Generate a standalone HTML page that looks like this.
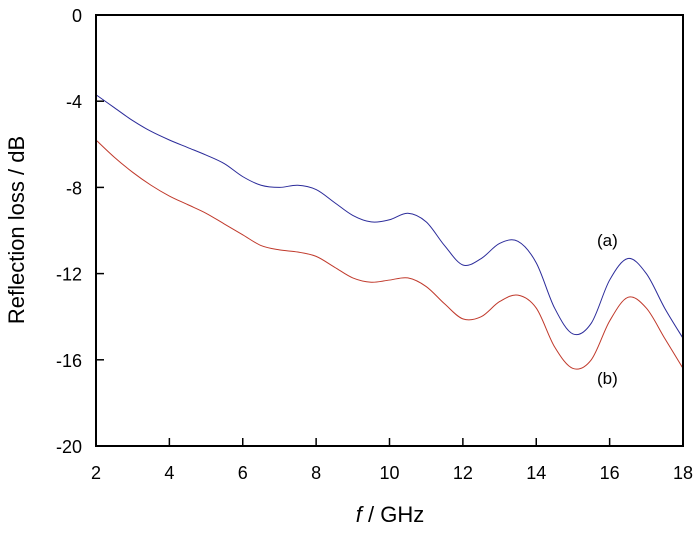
<!DOCTYPE html>
<html><head><meta charset="utf-8"><style>
body{margin:0;background:#fff;}
svg text{font-family:"Liberation Sans",Arial,sans-serif;fill:#000;}
</style></head><body>
<svg width="700" height="528">
<g id="axes"></g>
<path id="lineA" fill="none" stroke="#2b2b9a" stroke-width="1"/>
<path id="lineB" fill="none" stroke="#c0392b" stroke-width="1"/>
<rect x="96" y="15" width="587" height="431" fill="none" stroke="#000" stroke-width="2"/>
<text x="597" y="246" font-size="17">(a)</text>
<text x="597" y="384" font-size="17">(b)</text>
<text x="390" y="522" font-size="22" text-anchor="middle"><tspan font-style="italic">f</tspan> / GHz</text>
<text transform="translate(24,230) rotate(-90)" font-size="22" text-anchor="middle">Reflection loss / dB</text>
</svg>
<script>
const xs=[2,2.5,3,3.5,4,4.5,5,5.5,6,6.5,7,7.5,8,8.5,9,9.5,10,10.5,11,11.5,12,12.5,13,13.5,14,14.5,15,15.5,16,16.5,17,17.5,18];
const seriesA=[-3.7,-4.3,-4.9,-5.4,-5.8,-6.15,-6.5,-6.9,-7.5,-7.9,-8.0,-7.9,-8.1,-8.7,-9.3,-9.6,-9.5,-9.2,-9.6,-10.7,-11.6,-11.3,-10.6,-10.5,-11.5,-13.6,-14.8,-14.3,-12.3,-11.3,-12.0,-13.6,-15.0];
const seriesB=[-5.8,-6.6,-7.3,-7.9,-8.4,-8.8,-9.2,-9.7,-10.2,-10.7,-10.9,-11.0,-11.2,-11.7,-12.2,-12.4,-12.3,-12.2,-12.6,-13.4,-14.1,-14.0,-13.3,-13.0,-13.6,-15.4,-16.4,-16.0,-14.2,-13.1,-13.6,-15.0,-16.4];
const xTicks=[2,4,6,8,10,12,14,16,18];
const yTicks=[0,-4,-8,-12,-16,-20];
const X=v=>96+(v-2)/16*587, Y=v=>15+(-v)/20*431;
function path(ys){let p=xs.map((x,i)=>[X(x),Y(ys[i])]);let d=`M${p[0][0]},${p[0][1]}`;
for(let i=0;i<p.length-1;i++){const p0=p[Math.max(0,i-1)],p1=p[i],p2=p[i+1],p3=p[Math.min(p.length-1,i+2)];
d+=` C${p1[0]+(p2[0]-p0[0])/6},${p1[1]+(p2[1]-p0[1])/6} ${p2[0]-(p3[0]-p1[0])/6},${p2[1]-(p3[1]-p1[1])/6} ${p2[0]},${p2[1]}`;}return d;}
document.getElementById('lineA').setAttribute('d',path(seriesA));
document.getElementById('lineB').setAttribute('d',path(seriesB));
const ns='http://www.w3.org/2000/svg',g=document.getElementById('axes');
xTicks.forEach(t=>{const l=document.createElementNS(ns,'line');


l.setAttribute('x1',X(t));l.setAttribute('x2',X(t));l.setAttribute('y1',446);l.setAttribute('y2',438);l.setAttribute('stroke','#000');l.setAttribute('stroke-width','1.5');g.appendChild(l);
const tx=document.createElementNS(ns,'text');


tx.setAttribute('x',X(t));tx.setAttribute('y',479);tx.setAttribute('font-size','18');tx.setAttribute('text-anchor','middle');tx.textContent=t;g.appendChild(tx);});
yTicks.forEach(t=>{const l=document.createElementNS(ns,'line');


l.setAttribute('x1',96);l.setAttribute('x2',104);l.setAttribute('y1',Y(t));l.setAttribute('y2',Y(t));l.setAttribute('stroke','#000');l.setAttribute('stroke-width','1.5');g.appendChild(l);
const tx=document.createElementNS(ns,'text');


tx.setAttribute('x',82);tx.setAttribute('y',Y(t)+7);tx.setAttribute('font-size','18');tx.setAttribute('text-anchor','end');tx.textContent=t;g.appendChild(tx);});
</script>
</body></html>
